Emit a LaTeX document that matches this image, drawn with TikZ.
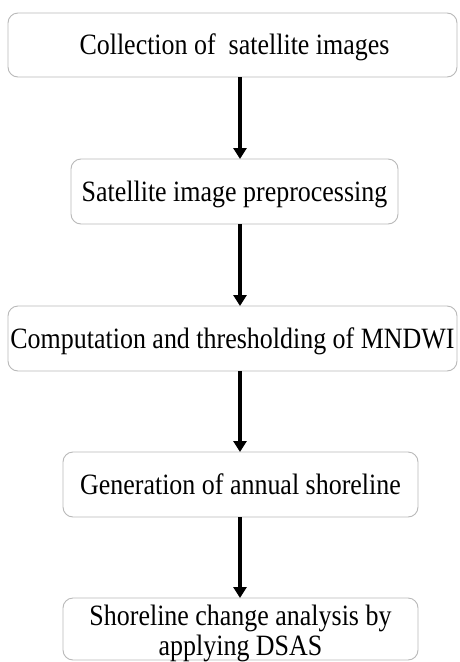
\documentclass[tikz,border=0pt]{standalone}
\usepackage{fontspec}
\setmainfont{Liberation Serif}
\newfontfamily\narrowserif[FakeStretch=0.88]{Liberation Serif}
\usetikzlibrary{arrows.meta}
\definecolor{boxline}{RGB}{185,185,185}
\begin{document}
\begin{tikzpicture}[x=1pt,y=-1pt,
  stepbox/.style={draw=boxline,line width=0.9pt,rounded corners=10pt,
    inner sep=0pt,outer sep=0pt,align=center,
    font=\narrowserif\fontsize{29.5}{30}\selectfont,
    text height=19.5pt,text depth=0pt},
  steptext/.style={inner sep=0pt,outer sep=0pt,align=center,
    font=\narrowserif\fontsize{29.5}{30}\selectfont},
  arr/.style={line width=3.6pt,-{Triangle[length=11pt,width=13pt]}}]
\useasboundingbox (0,0) rectangle (459,662);
\fill[white] (0,0) rectangle (459,662);
\node[stepbox,minimum width=449pt,minimum height=64pt] (b1) at (232.5,45)
  {\hspace*{4pt}Collection of~ satellite images};
\node[stepbox,minimum width=327pt,minimum height=65pt] (b2) at (234.5,191.5)
  {Satellite image preprocessing};
\node[stepbox,minimum width=449pt,minimum height=65pt] (b3) at (232.5,338.5)
  {Computation and thresholding of MNDWI};
\node[stepbox,minimum width=355pt,minimum height=65pt] (b4) at (240.5,484.5)
  {Generation of annual shoreline};
\node[stepbox,minimum width=355pt,minimum height=62pt] (b5) at (240.5,629) {};
\node[steptext] (t5) at (240.5,633) {Shoreline change analysis by\\applying DSAS};
\coordinate (ax) at (240,0);
\draw[arr] (b1.south -| ax) -- (b2.north -| ax);
\draw[arr] (b2.south -| ax) -- (b3.north -| ax);
\draw[arr] (b3.south -| ax) -- (b4.north -| ax);
\draw[arr] (b4.south -| ax) -- (b5.north -| ax);
\end{tikzpicture}
\end{document}
